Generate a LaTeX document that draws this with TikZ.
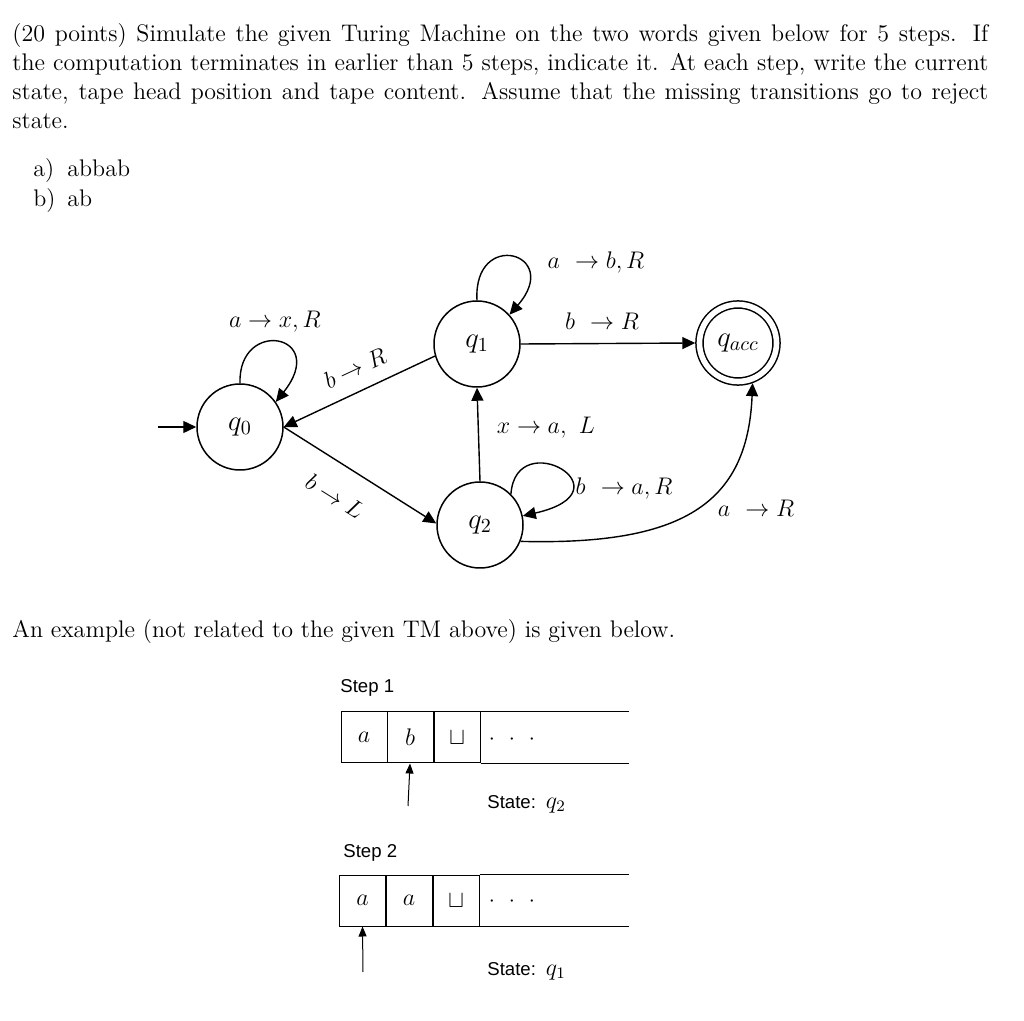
\documentclass[tikz,border=0pt]{standalone}
\usepackage{amsmath,amssymb}
\usepackage{fontspec}
\newfontfamily\arialfont{Liberation Sans}
\usepackage{tikz}
\usetikzlibrary{arrows.meta,positioning}
\tikzset{>={Triangle[length=6.5pt,width=6pt]}}
\tikzset{
  state/.style={circle,draw,line width=0.75pt,minimum size=43pt,inner sep=0pt,font=\fontsize{14}{16}\selectfont},
  accept/.style={state,minimum size=38.5pt,double,double distance=2.8pt,outer sep=2.1pt},
  edge/.style={line width=0.7pt},
  trans/.style={font=\fontsize{13}{15}\selectfont},
  cell/.style={draw,line width=0.5pt,minimum width=23pt,minimum height=25.5pt,inner sep=0pt,font=\fontsize{11.5}{13}\selectfont},
  head/.style={-{Triangle[length=5pt,width=4pt]},line width=0.5pt},
  txt/.style={anchor=base west,inner sep=0pt,font=\fontsize{12}{14.5}\selectfont},
  sans/.style={anchor=base west,inner sep=0pt,font=\arialfont\fontsize{9.3}{11}\selectfont},
}

\begin{document}
\begin{tikzpicture}[x=0.5pt,y=-0.5pt]
    \useasboundingbox (0,0) rectangle (1024,1021);

    % question text
    \node[txt] (l1) at (12,42) {\makebox[488pt][s]{(20 points) Simulate the given Turing Machine on the two words given below for 5 steps. If}};
    \node[txt] (l2) at (12,71) {\makebox[488pt][s]{the computation terminates in earlier than 5 steps, indicate it. At each step, write the current}};
    \node[txt] (l3) at (12,100) {\makebox[488pt][s]{state, tape head position and tape content. Assume that the missing transitions go to reject}};
    \node[txt] (l4) at (12,129) {state.};
    \node[txt] (ia) at (33,177) {a)};
    \node[txt] (wa) at (67,177) {abbab};
    \node[txt] (ib) at (33,207) {b)};
    \node[txt] (wb) at (67,207) {ab};

    % the machine
    \node[state] (q0) at (240,427) {$q_0$};
    \node[state] (q1) at (477,344) {$q_1$};
    \node[state] (q2) at (480,525) {$q_2$};
    \node[accept] (qa) at (738,343) {$q_{acc}$};

    \coordinate (start) at (158,427);
    \draw[edge,->] (start) -- (q0);
    \draw[edge,->] (q0.north) .. controls +(-2,-66) and +(54,-68) .. (q0.35);
    \draw[edge,->] (q1.north) .. controls +(-4,-72) and +(54,-62) .. (q1.42);
    \draw[edge,->] (q2.45) .. controls +(5,-70) and +(110,-25) .. (q2.12);
    \draw[edge,->] (q1.196) -- (q0.east);
    \draw[edge,->] (q0.east) -- (q2.178);
    \draw[edge,->] (q2.north) -- (q1.south);
    \draw[edge,->] (q1.east) -- (qa.west);
    \draw[edge,->] (q2.-22) .. controls +(160,4) and +(-5,122) .. (qa.-70);

    \node[trans] (t00) at (275,322) {$a \rightarrow x, R$};
    \node[trans,rotate=25] (t10) at (355,368) {$b \rightarrow R$};
    \node[trans,rotate=-32] (t02) at (335,496) {$b \rightarrow L$};
    \node[trans] (t21) at (546,428) {$x \rightarrow a,\ L$};
    \node[trans] (t11) at (596,263) {$a\ \rightarrow b, R$};
    \node[trans] (t1a) at (602,321) {$b\ \rightarrow R$};
    \node[trans] (t22) at (624,489) {$b\ \rightarrow a, R$};
    \node[trans] (t2a) at (756,508) {$a\ \rightarrow R$};

    \node[txt] (ex) at (12,638) {An example (not related to the given TM above) is given below.};

    % step 1
    \node[sans] (st1) at (340,693) {Step 1};
    \node[cell] (s1a) at (364,737.5) {$a$};
    \node[cell] (s1b) at (410,737.5) {$b$};
    \node[cell] (s1c) at (457,737.5) {$\sqcup$};
    \draw[line width=0.5pt] (s1c.north east) -- ++(148,0);
    \draw[line width=0.5pt] (s1c.south east) -- ++(148,0);
    \node[font=\fontsize{11}{12}\selectfont] (d1) at (512,740) {$\cdot$\hspace{7pt}$\cdot$\hspace{7pt}$\cdot$};
    \coordinate (p1) at (408,806);
    \draw[head] (p1) -- (s1b.south);
    \node[sans] (sq1) at (487,808) {State: \,{\fontsize{11.5}{13}\selectfont$q_2$}};

    % step 2
    \node[sans] (st2) at (343,857) {Step 2};
    \node[cell] (s2a) at (362.5,900.5) {$a$};
    \node[cell] (s2b) at (409,900.5) {$a$};
    \node[cell] (s2c) at (456,900.5) {$\sqcup$};
    \draw[line width=0.5pt] (s2c.north east) -- ++(149,0);
    \draw[line width=0.5pt] (s2c.south east) -- ++(149,0);
    \node[font=\fontsize{11}{12}\selectfont] (d2) at (512,902) {$\cdot$\hspace{7pt}$\cdot$\hspace{7pt}$\cdot$};
    \coordinate (p2) at (363,972);
    \draw[head] (p2) -- (s2a.south);
    \node[sans] (sq2) at (487,975) {State: \,{\fontsize{11.5}{13}\selectfont$q_1$}};
\end{tikzpicture}
\end{document}
